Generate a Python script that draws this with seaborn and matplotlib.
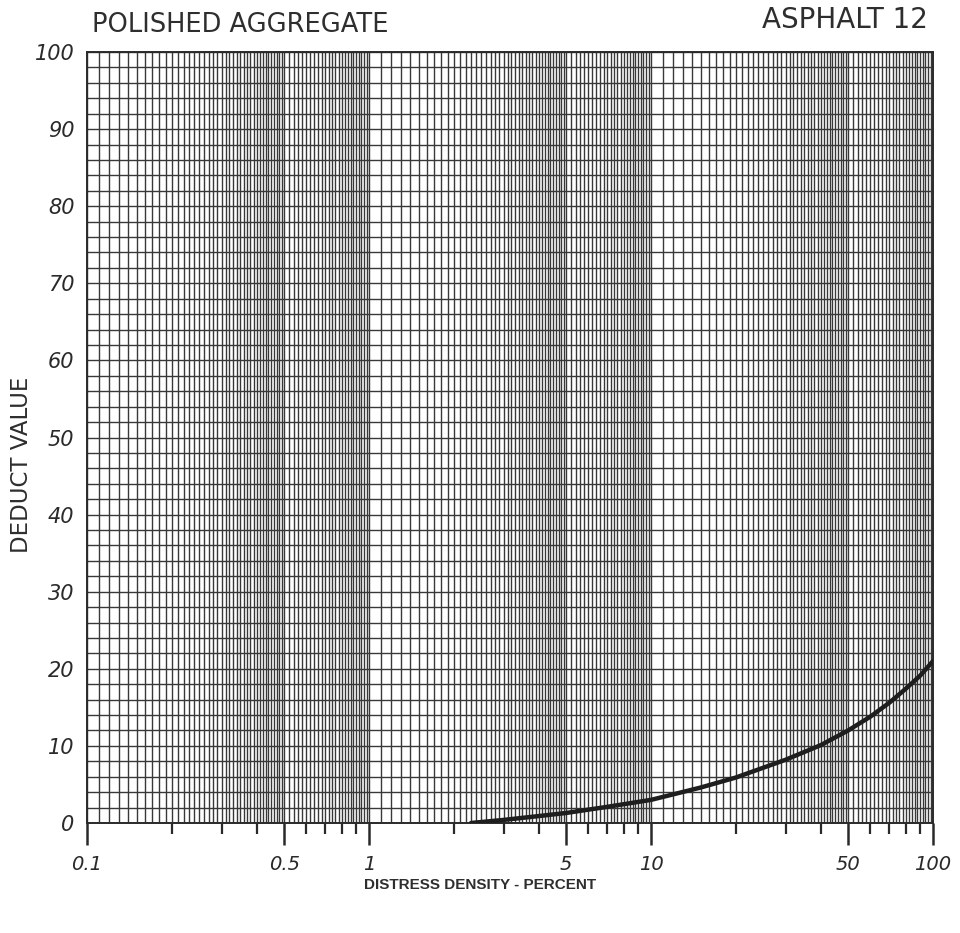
import numpy as np
import pandas as pd
import matplotlib
matplotlib.use("Agg")
import matplotlib.pyplot as plt
import seaborn as sns

# ---- data ----
density = [2.3, 3, 4, 5, 7, 10, 15, 20, 30, 40, 50, 60, 70, 80, 90, 100]
deduct = [0, 0.4, 0.9, 1.3, 2.1, 3.0, 4.6, 5.9, 8.2, 10.1, 12.0, 13.8, 15.6, 17.4, 19.1, 21.0]
x_major = [0.1, 0.5, 1, 5, 10, 50, 100]
x_major_labels = ["0.1", "0.5", "1", "5", "10", "50", "100"]
x_minor = [0.2, 0.3, 0.4, 0.6, 0.7, 0.8, 0.9, 2, 3, 4, 6, 7, 8, 9, 20, 30, 40, 60, 70, 80, 90]
y_ticks = [0, 10, 20, 30, 40, 50, 60, 70, 80, 90, 100]

title_left = "POLISHED AGGREGATE"
title_right = "ASPHALT 12"
ylabel = "DEDUCT VALUE"
xlabel = "DISTRESS DENSITY - PERCENT"

sns.set_theme(style="white")
plt.rcParams["font.family"] = ["DejaVu Sans"]

fig = plt.figure(figsize=(9.6, 9.33), dpi=100)
ax = fig.add_axes([87 / 960, 1 - 823 / 933, (933 - 87) / 960, (823 - 52) / 933])
ax.set_xscale("log")
ax.set_xlim(0.1, 100)
ax.set_ylim(0, 100)

# graph-paper grid
grid_col = "#383838"
gx = []
for d in [0.1, 1, 10]:
    gx += list(np.arange(d, 5 * d - 1e-9, 0.1 * d)) + list(np.arange(5 * d, 10 * d - 1e-9, 0.2 * d))
gx.append(100)
ax.vlines(gx, 0, 100, colors=grid_col, linewidth=1.0, zorder=1)
ax.hlines(np.arange(0, 101, 2), 0.1, 100, colors=grid_col, linewidth=1.0, zorder=1)

df = pd.DataFrame({"density": density, "deduct": deduct})
sns.lineplot(data=df, x="density", y="deduct", ax=ax, color="#1e1e1e", linewidth=3.2, zorder=5)

for s in ax.spines.values():
    s.set_color("#2a2a2a")
    s.set_linewidth(1.4)

ax.set_xticks(x_major)
ax.set_xticklabels(x_major_labels)
ax.set_xticks(x_minor, minor=True)
ax.xaxis.set_minor_formatter(matplotlib.ticker.NullFormatter())
ax.tick_params(axis="x", which="major", length=16, width=1.8, color="#2a2a2a", pad=7,
               labelsize=14, labelcolor="#2a2a2a", bottom=True)
ax.tick_params(axis="x", which="minor", length=8, width=1.6, color="#2a2a2a", bottom=True)
for lab in ax.get_xticklabels():
    lab.set_style("italic")
ax.set_yticks(y_ticks)
ax.tick_params(axis="y", length=0, pad=9, labelsize=15, labelcolor="#2a2a2a")
for lab in ax.get_yticklabels():
    lab.set_style("italic")

ax.set_xlabel("")
ax.set_ylabel("")

fig.text(92 / 960, 1 - 25 / 933, title_left, fontsize=18.5, color="#2e2e2e", ha="left", va="center")
fig.text(928 / 960, 1 - 20 / 933, title_right, fontsize=20, color="#2e2e2e", ha="right", va="center")
fig.text(22 / 960, 1 - 465 / 933, ylabel, fontsize=16.5, color="#2e2e2e", rotation=90,
         ha="center", va="center")
fig.text(480 / 960, 1 - 885 / 933, xlabel, fontsize=11, color="#2e2e2e", fontweight="bold",
         family=["Liberation Sans", "DejaVu Sans"], ha="center", va="center")

fig.savefig("out.png", dpi=100, facecolor="white")
